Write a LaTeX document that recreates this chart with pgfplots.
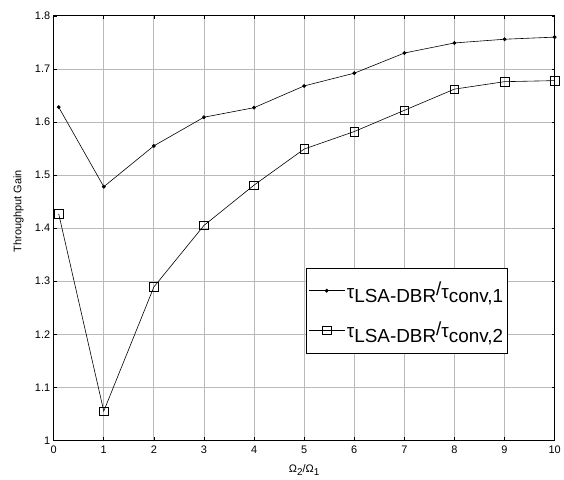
\documentclass[border=0pt]{standalone}
\usepackage{fontspec}
\setmainfont{Liberation Sans}
\usepackage{pgfplots}
\pgfplotsset{compat=1.18}

\begin{document}
\begin{tikzpicture}
\begin{axis}[
    scale only axis,
    width=504bp, height=427bp,
    at={(0,0)}, anchor=south west,
    xmin=0, xmax=10, ymin=1, ymax=1.8,
    xtick={0,1,2,3,4,5,6,7,8,9,10},
    ytick={1,1.1,1.2,1.3,1.4,1.5,1.6,1.7,1.8},
    grid=major,
    major grid style={gray!55, line width=0.9bp},
    tick align=inside,
    major tick length=3bp,
    tick style={black, line width=0.6bp},
    axis line style={black, line width=1.1bp},
    ticklabel style={font=\fontsize{11bp}{12bp}\selectfont},
    xticklabel style={yshift=-2.5bp},
    /pgf/number format/assume math mode=true,
    yticklabel style={/pgf/number format/fixed, /pgf/number format/precision=1},
    xlabel={Ω\raisebox{-0.5ex}{\fontsize{10bp}{11bp}\selectfont 2}/Ω\raisebox{-0.5ex}{\fontsize{10bp}{11bp}\selectfont 1}},
    ylabel={Throughput Gain},
    label style={font=\fontsize{11bp}{12bp}\selectfont},
    xlabel style={at={(axis description cs:0.5,-0.07)}, anchor=center},
    ylabel style={at={(axis description cs:-0.07,0.54)}, anchor=center},
    legend style={
        at={(0.504,0.407)}, anchor=north west,
        draw=black, line width=0.8bp,
        font=\fontsize{19bp}{22bp}\selectfont,
        inner xsep=2bp, inner ysep=12bp,
        row sep=18bp,
    },
    legend cell align=left,
    legend image code/.code={
        \draw[#1, line width=0.6bp, mark repeat=2, mark phase=2]
            plot coordinates {(0bp,0bp) (18bp,0bp) (36bp,0bp)};
    },
]
\addplot[black, line width=0.6bp, mark=*, mark size=1.6bp] coordinates {
    (0.1,1.628) (1,1.478) (2,1.555) (3,1.609) (4,1.627) (5,1.668)
    (6,1.692) (7,1.730) (8,1.749) (9,1.756) (10,1.760)
};
\addlegendentry{τ\raisebox{-0.45ex}{LSA-DBR}\raisebox{0.25ex}{/}τ\raisebox{-0.45ex}{conv,1}}
\addplot[black, line width=0.6bp, mark=square, mark size=4.3bp,
         mark options={line width=0.6bp}] coordinates {
    (0.1,1.427) (1,1.055) (2,1.289) (3,1.405) (4,1.481) (5,1.549)
    (6,1.582) (7,1.622) (8,1.662) (9,1.676) (10,1.678)
};
\addlegendentry{τ\raisebox{-0.45ex}{LSA-DBR}\raisebox{0.25ex}{/}τ\raisebox{-0.45ex}{conv,2}}
\end{axis}
\useasboundingbox (-54bp,-39bp) rectangle (510bp,443bp);
\end{tikzpicture}
\end{document}
